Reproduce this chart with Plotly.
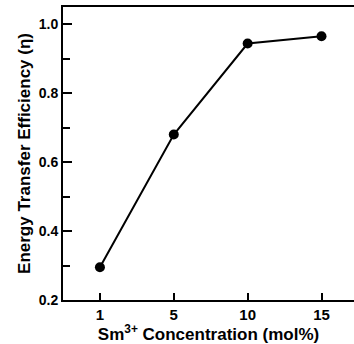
import plotly.graph_objects as go

concentration = ["1", "5", "10", "15"]
efficiency = [0.295, 0.68, 0.944, 0.965]

fig = go.Figure()
fig.add_trace(go.Scatter(
    x=concentration, y=efficiency, mode="lines+markers",
    line=dict(color="black", width=2),
    marker=dict(color="black", size=10),
    showlegend=False,
))

font = dict(family="Liberation Sans, Arial, sans-serif", color="black")

fig.update_layout(
    width=354, height=344,
    margin=dict(l=63, r=0, t=7, b=44),
    paper_bgcolor="white", plot_bgcolor="white",
    font=font,
)
fig.update_xaxes(
    type="category", range=[-0.5, 3.44],
    showline=True, linecolor="black", linewidth=2, mirror=True,
    ticks="inside", ticklen=7, tickwidth=2, tickcolor="black",
    showgrid=False, zeroline=False,
    tickfont=dict(size=15, family="Liberation Sans", weight="bold"),
    title=dict(text="Sm<sup>3+</sup> Concentration (mol%)",
               font=dict(size=17, family="Liberation Sans", weight="bold"),
               standoff=2),
)
fig.update_yaxes(
    range=[0.2, 1.05], tickvals=[0.2, 0.4, 0.6, 0.8, 1.0],
    ticktext=["0.2", "0.4", "0.6", "0.8", "1.0"],
    showline=True, linecolor="black", linewidth=2, mirror=False,
    ticks="inside", ticklen=9, tickwidth=2, tickcolor="black",
    minor=dict(tickvals=[0.3, 0.5, 0.7, 0.9], ticks="inside", ticklen=7,
               tickwidth=2, tickcolor="black", showgrid=False),
    showgrid=False, zeroline=False,
    tickfont=dict(size=14, family="Liberation Sans", weight="bold"),
    title=dict(text="Energy Transfer Efficiency (η)",
               font=dict(size=17, family="Liberation Sans", weight="bold"),
               standoff=4),
)

fig.write_html("out.html", config={"displayModeBar": False},
               post_script="document.body.style.margin='0';document.body.style.overflow='hidden';")
